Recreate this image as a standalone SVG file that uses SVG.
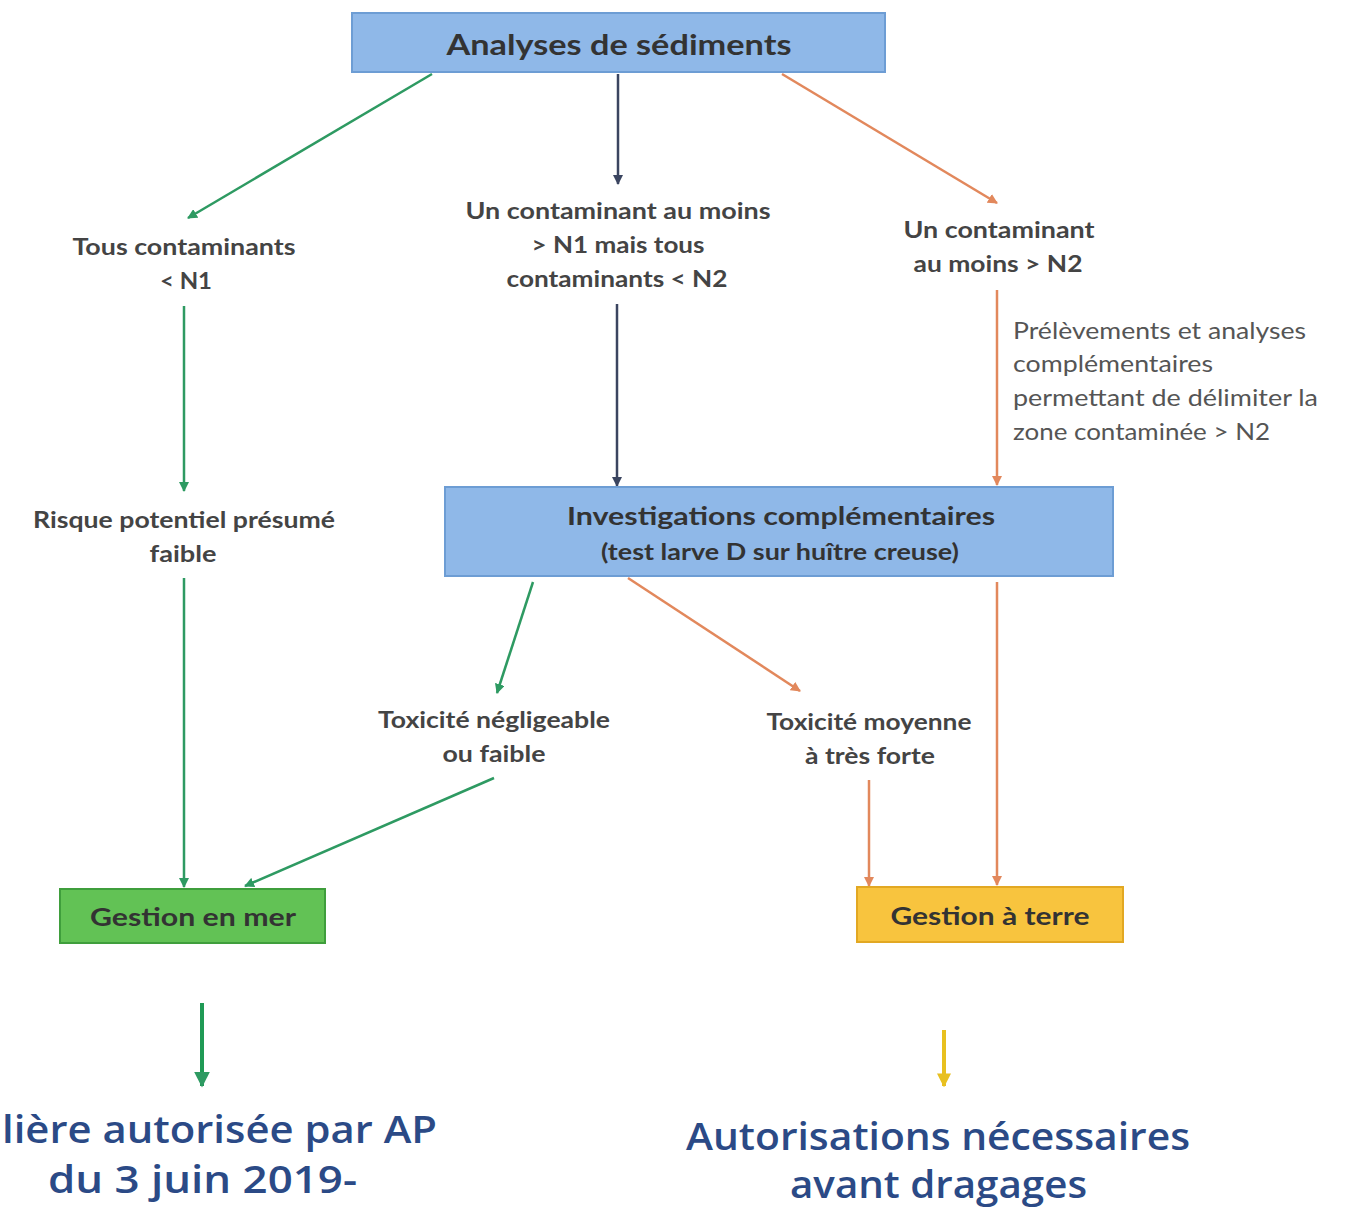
<svg xmlns="http://www.w3.org/2000/svg" width="1361" height="1210" viewBox="0 0 1361 1210">
<defs>
<style>
.t{font-family:Lato,"Liberation Sans",sans-serif;font-weight:bold;font-size:23px;fill:#444;text-anchor:middle}
.n{font-family:Lato,"Liberation Sans",sans-serif;font-size:23px;fill:#555}
.bx{font-family:Lato,"Liberation Sans",sans-serif;font-weight:bold;fill:#333;text-anchor:middle}
.big{font-family:"Open Sans","Liberation Sans",sans-serif;font-weight:600;font-size:37px;fill:#2b4a86}
.g{stroke:#2e9a62;stroke-width:2.5;fill:none}
.d{stroke:#3b4560;stroke-width:2.5;fill:none}
.o{stroke:#e2885c;stroke-width:2.5;fill:none}
</style>
<marker id="ag" viewBox="0 0 10 10" refX="9" refY="5" markerWidth="4" markerHeight="4" orient="auto"><path d="M0,0L10,5L0,10z" fill="#2e9a62"/></marker>
<marker id="ad" viewBox="0 0 10 10" refX="9" refY="5" markerWidth="4" markerHeight="4" orient="auto"><path d="M0,0L10,5L0,10z" fill="#3b4560"/></marker>
<marker id="ao" viewBox="0 0 10 10" refX="9" refY="5" markerWidth="4" markerHeight="4" orient="auto"><path d="M0,0L10,5L0,10z" fill="#e2885c"/></marker>
<marker id="ay" viewBox="0 0 10 10" refX="9" refY="5" markerWidth="3.5" markerHeight="3.5" orient="auto"><path d="M0,0L10,5L0,10z" fill="#e8c020"/></marker>
</defs>
<rect width="1361" height="1210" fill="#fff"/>
<g id="connectors">
<line class="g" x1="432" y1="74" x2="188" y2="218" marker-end="url(#ag)"/>
<line class="d" x1="618" y1="74" x2="618" y2="184" marker-end="url(#ad)"/>
<line class="o" x1="782" y1="74" x2="997" y2="203" marker-end="url(#ao)"/>
<line class="g" x1="184" y1="306" x2="184" y2="491" marker-end="url(#ag)"/>
<line class="d" x1="617" y1="304" x2="617" y2="486" marker-end="url(#ad)"/>
<line class="o" x1="997" y1="290" x2="997" y2="485" marker-end="url(#ao)"/>
<line class="g" x1="184" y1="578" x2="184" y2="887" marker-end="url(#ag)"/>
<line class="g" x1="533" y1="582" x2="497" y2="693" marker-end="url(#ag)"/>
<line class="o" x1="628" y1="578" x2="800" y2="691" marker-end="url(#ao)"/>
<line class="g" x1="494" y1="778" x2="245" y2="886" marker-end="url(#ag)"/>
<line class="o" x1="869" y1="780" x2="869" y2="886" marker-end="url(#ao)"/>
<line class="o" x1="997" y1="582" x2="997" y2="885" marker-end="url(#ao)"/>
<line x1="202" y1="1003" x2="202" y2="1086" stroke="#1f9a55" stroke-width="4" marker-end="url(#ag)"/>
<line x1="944" y1="1030" x2="944" y2="1086" stroke="#e8c020" stroke-width="4" marker-end="url(#ay)"/>
</g>
<g id="n-analyses">
<rect x="352" y="13" width="533" height="59" fill="#8fb8e8" stroke="#6d9dd4" stroke-width="2"/>
<text class="bx" x="619" y="55" font-size="29" textLength="345" lengthAdjust="spacingAndGlyphs">Analyses de sédiments</text>
</g>
<g id="n-tous">
<text class="t" x="184" y="255" textLength="223" lengthAdjust="spacingAndGlyphs">Tous contaminants</text>
<text class="t" x="186" y="289" textLength="52" lengthAdjust="spacingAndGlyphs">&lt; N1</text>
</g>
<g id="n-un-n1">
<text class="t" x="618" y="219" textLength="305" lengthAdjust="spacingAndGlyphs">Un contaminant au moins</text>
<text class="t" x="618" y="253" textLength="173" lengthAdjust="spacingAndGlyphs">&gt; N1 mais tous</text>
<text class="t" x="617" y="287" textLength="221" lengthAdjust="spacingAndGlyphs">contaminants &lt; N2</text>
</g>
<g id="n-un-n2">
<text class="t" x="999" y="238" textLength="191" lengthAdjust="spacingAndGlyphs">Un contaminant</text>
<text class="t" x="998" y="272" textLength="169" lengthAdjust="spacingAndGlyphs">au moins &gt; N2</text>
</g>
<g id="n-prelevements">
<text class="n" x="1013" y="339" textLength="293" lengthAdjust="spacingAndGlyphs">Prélèvements et analyses</text>
<text class="n" x="1013" y="372" textLength="200" lengthAdjust="spacingAndGlyphs">complémentaires</text>
<text class="n" x="1013" y="406" textLength="305" lengthAdjust="spacingAndGlyphs">permettant de délimiter la</text>
<text class="n" x="1013" y="440" textLength="257" lengthAdjust="spacingAndGlyphs">zone contaminée &gt; N2</text>
</g>
<g id="n-risque">
<text class="t" x="184" y="528" textLength="302" lengthAdjust="spacingAndGlyphs">Risque potentiel présumé</text>
<text class="t" x="183" y="562" textLength="67" lengthAdjust="spacingAndGlyphs">faible</text>
</g>
<g id="n-investigations">
<rect x="445" y="487" width="668" height="89" fill="#8fb8e8" stroke="#6d9dd4" stroke-width="2"/>
<text class="bx" x="781" y="525" font-size="25" textLength="428" lengthAdjust="spacingAndGlyphs">Investigations complémentaires</text>
<text class="bx" x="780" y="560" font-size="22" textLength="358" lengthAdjust="spacingAndGlyphs">(test larve D sur huître creuse)</text>
</g>
<g id="n-tox-faible">
<text class="t" x="494" y="728" textLength="232" lengthAdjust="spacingAndGlyphs">Toxicité négligeable</text>
<text class="t" x="494" y="762" textLength="103" lengthAdjust="spacingAndGlyphs">ou faible</text>
</g>
<g id="n-tox-forte">
<text class="t" x="869" y="730" textLength="205" lengthAdjust="spacingAndGlyphs">Toxicité moyenne</text>
<text class="t" x="870" y="764" textLength="130" lengthAdjust="spacingAndGlyphs">à très forte</text>
</g>
<g id="n-gestion-mer">
<rect x="60" y="889" width="265" height="54" fill="#62c255" stroke="#3f9e3c" stroke-width="2"/>
<text class="bx" x="193" y="926" font-size="24" textLength="206" lengthAdjust="spacingAndGlyphs">Gestion en mer</text>
</g>
<g id="n-gestion-terre">
<rect x="857" y="887" width="266" height="55" fill="#f8c43e" stroke="#e2a823" stroke-width="2"/>
<text class="bx" x="990" y="925" font-size="24" textLength="199" lengthAdjust="spacingAndGlyphs">Gestion à terre</text>
</g>
<g id="n-filiere">
<text class="big" x="2" y="1143" textLength="435" lengthAdjust="spacingAndGlyphs">lière autorisée par AP</text>
<text class="big" x="48" y="1193" textLength="309" lengthAdjust="spacingAndGlyphs">du 3 juin 2019-</text>
</g>
<g id="n-autorisations">
<text class="big" x="686" y="1150" textLength="504" lengthAdjust="spacingAndGlyphs">Autorisations nécessaires</text>
<text class="big" x="790" y="1198" font-size="35" textLength="297" lengthAdjust="spacingAndGlyphs">avant dragages</text>
</g>
</svg>
